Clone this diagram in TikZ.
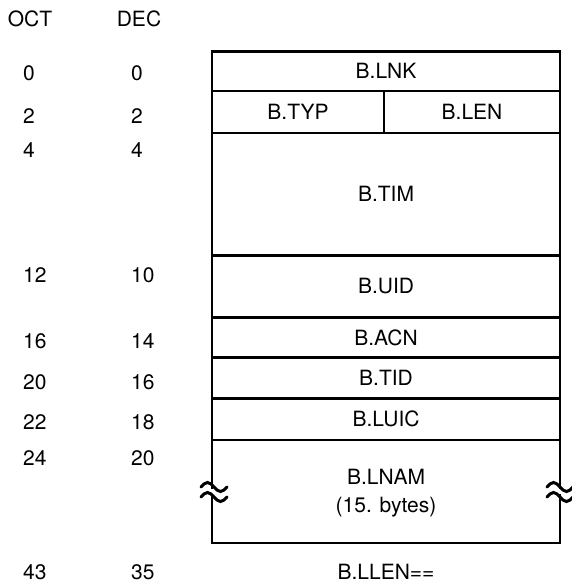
\documentclass[tikz,border=0pt]{standalone}
\usepackage{fontspec}
\setmainfont{TeX Gyre Heros}
\begin{document}
\begin{tikzpicture}[x=1pt,y=-1pt,
  field/.style={draw=black, line width=2.8pt, inner sep=0pt, outer sep=0pt,
    font=\fontsize{21}{25}\selectfont, anchor=center},
  lbl/.style={inner sep=0pt, font=\fontsize{21}{25}\selectfont, anchor=west},
  hdr/.style={inner sep=0pt, font=\fontsize{21}{25}\selectfont, anchor=center},
  brk/.style={line width=3pt, line cap=round}
]
\useasboundingbox (0,0) rectangle (571,585);
% headers
\node[hdr] (oct) at (30,19) {OCT};
\node[hdr] (dec) at (139,19) {DEC};
% fields
\node[field, minimum width=348pt, minimum height=39.5pt] (lnk) at (386,71.25) {B.LNK};
\node[field, minimum width=172pt, minimum height=42pt] (typ) at (298,112) {B.TYP};
\node[field, minimum width=176pt, minimum height=42pt] (len) at (472,112) {B.LEN};
\node[field, minimum width=348pt, minimum height=122.5pt] (tim) at (386,194.25) {B.TIM};
\node[field, minimum width=348pt, minimum height=62pt] (uid) at (386,286.5) {B.UID};
\node[field, minimum width=348pt, minimum height=40pt] (acn) at (386,337.5) {B.ACN};
\node[field, minimum width=348pt, minimum height=41pt] (tid) at (386,378) {B.TID};
\node[field, minimum width=348pt, minimum height=41.5pt] (luic) at (386,419.25) {B.LUIC};
\node[field, minimum width=348pt, minimum height=103pt] (lnam) at (386,491.5) {};
\node[hdr] (lnamt) at (386,477) {B.LNAM};
\node[hdr] (bytes) at (386,507) {(15. bytes)};
\node[hdr] (llen) at (386,572) {B.LLEN==};
% offsets
\node[lbl] (o0) at (23,73) {0};
\node[lbl] (d0) at (131,73) {0};
\node[lbl] (o2) at (23,116) {2};
\node[lbl] (d2) at (131,116) {2};
\node[lbl] (o4) at (23,150) {4};
\node[lbl] (d4) at (131,150) {4};
\node[lbl] (o12) at (23,275) {12};
\node[lbl] (d10) at (131,275) {10};
\node[lbl] (o16) at (23,341) {16};
\node[lbl] (d14) at (131,341) {14};
\node[lbl] (o20) at (23,382) {20};
\node[lbl] (d16) at (131,382) {16};
\node[lbl] (o22) at (23,422) {22};
\node[lbl] (d18) at (131,422) {18};
\node[lbl] (o24) at (23,458) {24};
\node[lbl] (d20) at (131,458) {20};
\node[lbl] (o43) at (23,572) {43};
\node[lbl] (d35) at (131,572) {35};
% break marks
\foreach \bx in {214,560}{
  \fill[white] (\bx-3,489) rectangle (\bx+3,494);
  \draw[brk] (\bx-13,487) sin (\bx-6.5,482.5) cos (\bx,487) sin (\bx+6.5,491.5) cos (\bx+13,487);
  \draw[brk] (\bx-13,497) sin (\bx-6.5,492.5) cos (\bx,497) sin (\bx+6.5,501.5) cos (\bx+13,497);
}
\end{tikzpicture}
\end{document}
